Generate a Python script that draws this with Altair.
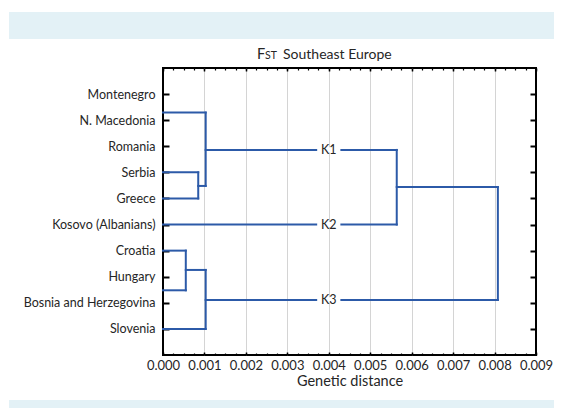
import altair as alt
import pandas as pd

# ---- data ----
countries = ["Montenegro", "N. Macedonia", "Romania", "Serbia", "Greece",
             "Kosovo (Albanians)", "Croatia", "Hungary",
             "Bosnia and Herzegovina", "Slovenia"]
rows = list(range(1, len(countries) + 1))

x_major = [0.000, 0.001, 0.002, 0.003, 0.004, 0.005, 0.006, 0.007, 0.008, 0.009]
x_grid = x_major[1:-1]
x_minor = [round(i * 0.00025, 5) for i in range(37)]

# dendrogram segments (genetic distance, row position)
seg_x1 = [0, 0, 0, 0.00085, 0.00085, 0.00103, 0.00103, 0, 0.00564, 0.00564,
          0.00808, 0.00103, 0, 0, 0.00055, 0.00055, 0, 0.00103]
seg_x2 = [0.00103, 0.00085, 0.00085, 0.00085, 0.00103, 0.00103, 0.00564, 0.00564,
          0.00564, 0.00808, 0.00808, 0.00808, 0.00055, 0.00055, 0.00055, 0.00103,
          0.00103, 0.00103]
seg_y1 = [1.71, 4.0, 5.0, 4.0, 4.52, 1.71, 3.14, 6.0, 3.14, 4.56, 4.56, 8.89,
          7.0, 8.52, 7.0, 7.74, 10.0, 7.74]
seg_y2 = [1.71, 4.0, 5.0, 5.0, 4.52, 4.52, 3.14, 6.0, 6.0, 4.56, 8.89, 8.89,
          7.0, 8.52, 8.52, 7.74, 10.0, 10.0]

cluster_names = ["K1", "K2", "K3"]
cluster_x = [0.004, 0.004, 0.004]
cluster_y = [3.14, 6.0, 8.89]

title_parts = ["F", "ST", "Southeast Europe"]
x_title = "Genetic distance"

# ---- tables ----
segs = pd.DataFrame({"x1": seg_x1, "x2": seg_x2, "y1": seg_y1, "y2": seg_y2})
clusters = pd.DataFrame({"name": cluster_names, "x": cluster_x, "y": cluster_y})
one = pd.DataFrame({"a": [0]})

FONT = "Lato"
TXT = "#262626"
BLUE = "#2c5aa8"
BAND = "#e3f1f6"

xs = alt.Scale(domain=[0, 0.009], nice=False, zero=False)
ys = alt.Scale(domain=[0, 11], reverse=True, nice=False, zero=False)

label_expr = "[" + ",".join("'" + c + "'" for c in countries) + "][datum.value - 1]"


def tick_axis(orient, values, size, width):
    return alt.Axis(orient=orient, values=values, offset=-size, tickSize=size,
                    tickWidth=width, tickColor="black", labels=False, grid=False,
                    domain=False, title=None)


# bands (page decoration)
band_top = alt.Chart(one).mark_rect(color=BAND).encode(
    x=alt.value(-154), x2=alt.value(391), y=alt.value(-56), y2=alt.value(-29))
band_bot = alt.Chart(one).mark_rect(color=BAND).encode(
    x=alt.value(-154), x2=alt.value(391), y=alt.value(332), y2=alt.value(350))

# grid layer
grid = alt.Chart(segs).mark_point(opacity=0).encode(
    x=alt.X("x1:Q", scale=xs, axis=alt.Axis(orient="bottom", values=x_grid, grid=True,
                                             gridColor="#d4d4d4", gridWidth=1, ticks=False,
                                             labels=False, domain=False, title=None)),
    y=alt.Y("y1:Q", scale=ys, axis=None))

# main segments with labelled axes
main = alt.Chart(segs).mark_rule(color=BLUE, strokeWidth=2, strokeCap="square").encode(
    x=alt.X("x1:Q", scale=xs, axis=alt.Axis(
        orient="bottom", values=x_major, format=".3f", grid=False, ticks=False,
        tickSize=0, domain=False, labelFont=FONT, labelFontSize=13, labelColor=TXT,
        labelPadding=4, labelOverlap=False, labelFlush=False, labelBound=False,
        title=x_title, titleFont=FONT, titleFontSize=14.5,
        titleFontWeight="normal", titleColor=TXT, titlePadding=2)),
    x2="x2:Q",
    y=alt.Y("y1:Q", scale=ys, axis=alt.Axis(
        orient="left", values=rows, labelExpr=label_expr, grid=False, ticks=False,
        tickSize=0, domain=False, labelFont=FONT, labelFontSize=12.5, labelColor=TXT,
        labelPadding=8, labelOverlap=False, title=None)),
    y2="y2:Q")

ticks_a = alt.Chart(segs).mark_point(opacity=0).encode(
    x=alt.X("x1:Q", scale=xs, axis=tick_axis("bottom", x_major, 3, 1.5)),
    y=alt.Y("y1:Q", scale=ys, axis=tick_axis("left", rows, 6, 2)))
ticks_b = alt.Chart(segs).mark_point(opacity=0).encode(
    x=alt.X("x1:Q", scale=xs, axis=tick_axis("bottom", x_minor, 2, 1.2)),
    y=alt.Y("y1:Q", scale=ys, axis=tick_axis("right", rows, 6, 2)))
ticks_c = alt.Chart(segs).mark_point(opacity=0).encode(
    x=alt.X("x1:Q", scale=xs, axis=tick_axis("top", x_major, 3, 1.5)),
    y=alt.Y("y1:Q", scale=ys, axis=None))
ticks_d = alt.Chart(segs).mark_point(opacity=0).encode(
    x=alt.X("x1:Q", scale=xs, axis=tick_axis("top", x_minor, 2, 1.2)),
    y=alt.Y("y1:Q", scale=ys, axis=None))

# cluster labels with white gap
gap = alt.Chart(clusters).transform_calculate(
    lo="datum.x - 0.00028", hi="datum.x + 0.00028").mark_rule(
    color="white", strokeWidth=5).encode(
    x=alt.X("lo:Q", scale=xs, axis=None), x2="hi:Q",
    y=alt.Y("y:Q", scale=ys, axis=None))
klab = alt.Chart(clusters).mark_text(font=FONT, fontSize=12.5, color=TXT).encode(
    x=alt.X("x:Q", scale=xs, axis=None), y=alt.Y("y:Q", scale=ys, axis=None),
    text="name:N")

# title pieces
t1 = alt.Chart(one).mark_text(text=title_parts[0], font=FONT, fontSize=14.5, color=TXT,
                              align="left", baseline="alphabetic").encode(
    x=alt.value(94), y=alt.value(-9))
t2 = alt.Chart(one).mark_text(text=title_parts[1], font=FONT, fontSize=10.5, color=TXT,
                              align="left", baseline="alphabetic").encode(
    x=alt.value(102), y=alt.value(-9))
t3 = alt.Chart(one).mark_text(text=title_parts[2], font=FONT, fontSize=14, color=TXT,
                              align="left", baseline="alphabetic").encode(
    x=alt.value(120), y=alt.value(-9))

chart = alt.layer(
    band_top, band_bot, grid, ticks_a, ticks_b, ticks_c, ticks_d, main, gap, klab,
    t1, t2, t3
).resolve_axis(x="independent", y="independent").properties(
    width=373, height=287,
    padding={"left": 155, "top": 60, "right": 18, "bottom": 53},
    autosize=alt.AutoSizeParams(type="none"),
    background="white",
).configure_view(stroke="black", strokeWidth=2)

chart.save("out.html", embed_options={"renderer": "svg", "actions": False})
